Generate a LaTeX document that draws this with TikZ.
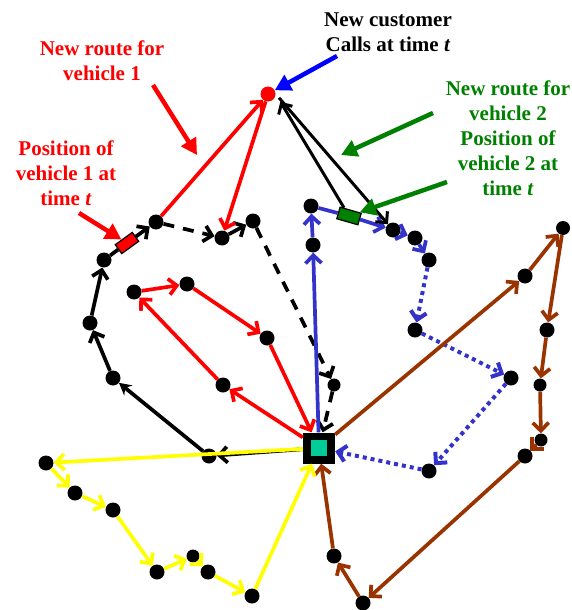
\documentclass[tikz,border=0pt]{standalone}
\usepackage{fontspec}
\setmainfont{Liberation Serif}
\usetikzlibrary{arrows.meta}
\definecolor{routeblue}{RGB}{51,51,204}
\definecolor{routebrown}{RGB}{153,51,0}
\definecolor{routeyellow}{RGB}{255,255,0}
\definecolor{dkgreen}{RGB}{0,128,0}
\definecolor{depotteal}{RGB}{0,204,153}
\begin{document}
\begin{tikzpicture}[x=1pt,y=-1pt,
  stop/.style={circle,fill=black,inner sep=0pt,minimum size=15pt},
  route/.style={line width=3.7pt},
  rarrow/.style={-{Straight Barb[length=8pt,width=16pt]}},
  farrow/.style={-{Stealth[length=12pt,width=13pt]}},
  dashline/.style={dash pattern=on 11pt off 9pt},
  dotline/.style={dash pattern=on 4pt off 4pt,line width=4pt},
  note/.style={font=\fontsize{21}{25}\selectfont\bfseries,align=center},
  pointer/.style={line width=4.5pt,-{Triangle[length=16pt,width=17pt]}},
  vehicle/.style={draw=black,line width=1.2pt,minimum width=21pt,minimum height=11pt,inner sep=0pt}]
\useasboundingbox (0,0) rectangle (572,610);

% depot
\node[fill=black,minimum width=32pt,minimum height=31pt,inner sep=0pt] (D) at (319,448) {};
\node[fill=depotteal,minimum size=16pt,inner sep=0pt] (Din) at (D) {};

% new customer
\node[circle,fill=red,inner sep=0pt,minimum size=15pt] (Cust) at (268,94) {};

% vehicle 1 route stops
\node[stop] (A1) at (209,456) {};
\node[stop] (A2) at (113,378) {};
\node[stop] (A3) at (90,323) {};
\node[stop] (A4) at (104,260) {};
\node[stop] (A5) at (156,222) {};
\node[stop] (A6) at (222,238) {};
\node[stop] (A7) at (253,221) {};
\node[stop,minimum size=13pt] (A8) at (334,385) {};
\node[vehicle,fill=red,rotate=36] (V1) at (127,243) {};

% red route stops
\node[stop] (R1) at (134,292) {};
\node[stop] (R2) at (187,284) {};
\node[stop] (R3) at (267,338) {};
\node[stop] (R4) at (223,385) {};

% vehicle 2 route stops
\node[stop] (B1) at (313,245) {};
\node[stop] (B2) at (311,206) {};
\node[stop] (B3) at (393,230) {};
\node[stop] (B4) at (415,238) {};
\node[stop] (B5) at (429,260) {};
\node[stop] (B6) at (415,330) {};
\node[stop] (B7) at (511,378) {};
\node[stop] (B8) at (429,471) {};
\node[vehicle,fill=dkgreen,minimum width=22pt,minimum height=12pt,rotate=-16] (V2) at (349,216) {};

% brown route stops
\node[stop] (C0) at (525,276) {};
\node[stop,minimum size=14pt] (C1) at (563,228) {};
\node[stop] (C2) at (547,330) {};
\node[stop,minimum size=13pt] (C3) at (540,385) {};
\node[stop,minimum size=13pt] (C4) at (541,440) {};
\node[stop] (C5) at (525,456) {};
\node[stop] (C6) at (363,603) {};
\node[stop] (C7) at (334,556) {};

% yellow route stops
\node[stop] (Y1) at (46,463) {};
\node[stop] (Y2) at (75,493) {};
\node[stop] (Y3) at (113,510) {};
\node[stop] (Y4) at (157,572) {};
\node[stop,minimum size=13pt] (Y5) at (193,556) {};
\node[stop] (Y6) at (208,572) {};
\node[stop] (Y7) at (252,596) {};

% vehicle 1 (black)
\begin{scope}[route,black]
\draw[rarrow] (D) -- (A1);
\draw[farrow] (A1) -- (A2);
\draw[rarrow] (A2) -- (A3);
\draw[rarrow] (A3) -- (A4);
\draw (A4) -- (V1);
\draw[rarrow] (V1) -- (A5);
\draw[rarrow,dashline] (A5) -- (A6);
\draw[rarrow] (A6) -- (A7);
\draw[rarrow,dashline] (A7) -- (A8);
\draw[rarrow,dashline] (A8) -- (D);
\end{scope}

% red route
\begin{scope}[route,red]
\draw[rarrow] (D) -- (R4);
\draw[rarrow] (R4) -- (R1);
\draw[rarrow] (R1) -- (R2);
\draw[rarrow] (R2) -- (R3);
\draw[rarrow] (R3) -- (D);
% new route for vehicle 1
\draw[rarrow] (A5) -- (Cust);
\draw[rarrow] (Cust) -- (A6);
\end{scope}

% vehicle 2 (blue)
\begin{scope}[route,routeblue]
\draw[rarrow] (D) -- (B1);
\draw[rarrow] (B1) -- (B2);
\draw (B2) -- (V2);
\draw[rarrow] (V2) -- (B3);
\draw[rarrow] (B3) -- (B4);
\draw[rarrow] (B4) -- (B5);
\draw[rarrow,dotline] (B5) -- (B6);
\draw[rarrow,dotline] (B6) -- (B7);
\draw[rarrow,dotline] (B7) -- (B8);
\draw[rarrow,dotline] (B8) -- (D);
\end{scope}

% new route for vehicle 2
\begin{scope}[route,black,line width=3pt]
\draw[-{Straight Barb[length=8pt,width=16pt]},shorten >=9pt] (V2) -- (Cust.east);
\draw[-{Straight Barb[length=8pt,width=16pt]},shorten <=5pt] (Cust.east) -- (B3);
\end{scope}

% brown route
\begin{scope}[route,routebrown]
\draw[rarrow] (D) -- (C0);
\draw[rarrow] (C0) -- (C1);
\draw[rarrow] (C1) -- (C2);
\draw[rarrow] (C2) -- (C3);
\draw[rarrow] (C3) -- (C4);
\draw[rarrow] (C4) -- (C5);
\draw[rarrow] (C5) -- (C6);
\draw[rarrow] (C6) -- (C7);
\draw[rarrow] (C7) -- (D);
\end{scope}

% yellow route
\begin{scope}[route,routeyellow]
\draw[rarrow] (D) -- (Y1);
\draw[rarrow] (Y1) -- (Y2);
\draw[rarrow] (Y2) -- (Y3);
\draw[rarrow] (Y3) -- (Y4);
\draw[rarrow] (Y4) -- (Y5);
\draw[rarrow] (Y5) -- (Y6);
\draw[rarrow] (Y6) -- (Y7);
\draw[rarrow] (Y7) -- (D);
\end{scope}

% annotations
\node[note,text=red] (N1) at (102,61) {New route for\\vehicle 1};
\node[note,text=red] (N2) at (66,173) {Position of\\vehicle 1 at\\time \textit{t}};
\node[note] (N3) at (388,32) {New customer\\Calls at time \textit{t}};
\node[note,text=dkgreen] (N4) at (508,138) {New route for\\vehicle 2\\Position of\\vehicle 2 at\\time \textit{t}};

\coordinate (P1s) at (153,85);
\coordinate (P1e) at (197,155);
\coordinate (P2s) at (79,213);
\coordinate (P3s) at (337,56);
\coordinate (P4s) at (433,113);
\coordinate (P4e) at (341,155);
\coordinate (P5s) at (447,182);

\draw[pointer,red] (P1s) -- (P1e);
\draw[pointer,red] (P2s) -- (V1);
\draw[pointer,blue] (P3s) -- (Cust);
\draw[pointer,dkgreen] (P4s) -- (P4e);
\draw[pointer,dkgreen] (P5s) -- (V2);
\end{tikzpicture}
\end{document}
